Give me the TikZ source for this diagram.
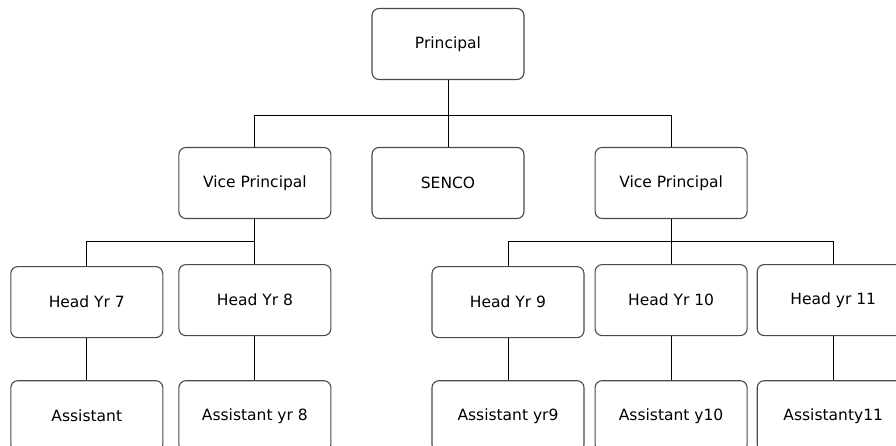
\documentclass[tikz,border=0pt]{standalone}
\usepackage{fontspec}
\usepackage{tikz}
\usetikzlibrary{positioning,calc}
\setmainfont{DejaVu Sans}
\definecolor{boxline}{HTML}{4A4A4A}
\tikzset{
  role/.style={draw=boxline,line width=1.1pt,rounded corners=7pt,fill=white,minimum width=152pt,minimum height=71pt,align=center,font=\fontsize{15.5}{18}\selectfont},
  link/.style={draw=black,line width=1pt}
}

\begin{document}
\begin{tikzpicture}[
  x=1pt,y=-1pt,
  node distance=45pt and 40pt
]
  \useasboundingbox (0,0) rectangle (896,446);
  \clip (0,0) rectangle (896,446);

  \node[role] (principal) at (448,44) {Principal};
  \node[role] (senco) at (448,183) {SENCO};
  \node[role,left=40pt of senco] (vp_a) {Vice Principal};
  \node[role,right=70pt of senco] (vp_b) {Vice Principal};

  \node[role,below=of vp_a] (head8) {Head Yr 8};
  \node[role,left=15pt of head8,yshift=-2pt] (head7) {Head Yr 7};
  \node[role,below=of vp_b] (head10) {Head Yr 10};
  \node[role,left=10pt of head10,yshift=-2pt] (head9) {Head Yr 9};
  \node[role,right=9pt of head10] (head11) {Head yr 11};

  \node[role,below=42pt of head7] (asst7) {Assistant};
  \node[role,below=44pt of head8] (asst8) {Assistant yr 8};
  \node[role,below=42pt of head9] (asst9) {Assistant yr9};
  \node[role,below=44pt of head10] (asst10) {Assistant y10};
  \node[role,below=44pt of head11] (asst11) {Assistanty11};

  \coordinate (topbus) at ($(principal.south)!0.53!(senco.north)$);
  \coordinate (busa) at ($(vp_a.south)!0.5!(head8.north)$);
  \coordinate (busb) at ($(vp_b.south)!0.5!(head10.north)$);

  \draw[link] (principal) -- (topbus) -| (vp_a);
  \draw[link] (topbus) -| (vp_b);
  \draw[link] (topbus) -- (senco);

  \draw[link] (vp_a) -- (busa) -| (head7);
  \draw[link] (busa) -- (head8);

  \draw[link] (vp_b) -- (busb) -| (head9);
  \draw[link] (busb) -| (head11);
  \draw[link] (busb) -- (head10);

  \foreach \yr in {7,...,11}
    \draw[link] (head\yr) -- (asst\yr);
\end{tikzpicture}
\end{document}
